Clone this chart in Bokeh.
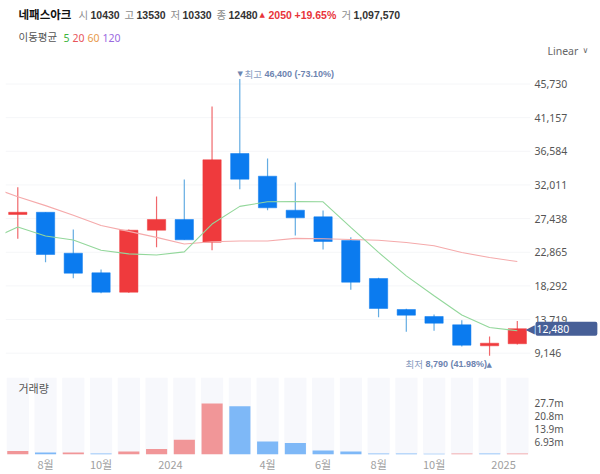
from bokeh.core.properties import value
from bokeh.embed import file_html
from bokeh.resources import INLINE
from bokeh.plotting import figure
from bokeh.layouts import column
from bokeh.models import Label, Range1d, FixedTicker, ColumnDataSource

KR = "Noto Sans CJK KR"
LAT = "Noto Sans"
NUM = "Liberation Sans"

# ---- data ----
idx = list(range(19))
opens = [28000, 28300, 22736, 20072, 17436, 25862, 27316, 24231, 36285, 33200, 28580, 27683, 24462, 19298, 15085, 14134, 13006, 10152, 10430]
closes = [28300, 22559, 20018, 17436, 25862, 27316, 24557, 35429, 32793, 28906, 27547, 24326, 18795, 15221, 14310, 13223, 10233, 10505, 12480]
highs = [31700, 28300, 25957, 20521, 25950, 30442, 32752, 42673, 46400, 35606, 32344, 28539, 24910, 19400, 15180, 14405, 13631, 11416, 13530]
lows = [24700, 21513, 19338, 17300, 17350, 23551, 24557, 23144, 31434, 28580, 25142, 23239, 17762, 14038, 12054, 12190, 10057, 8790, 10330]

ma_x = [-1, 0, 1, 2, 3, 4, 5, 6, 7, 8, 9, 10, 11, 12, 13, 14, 15, 16, 17, 18]
ma20 = [24540, 26300, 25080, 24540, 23130, 22640, 22500, 22910, 26700, 29100, 29720, 29770, 29720, 26250, 22840, 19660, 16950, 14330, 12640, 12200]
ma60 = [31800, 30400, 29200, 27900, 26500, 25700, 24890, 23990, 24300, 24390, 24390, 24750, 24690, 24600, 24500, 24190, 23740, 22830, 22150, 21600]

volumes = [1.95, 1.07, 1.07, 0.5, 1.6, 3.0, 8.0, 27.6, 26.1, 7.1, 6.2, 2.1, 1.6, 0.55, 0.6, 0.35, 0.5, 0.55, 0.5]
vol_up = [1, 0, 1, 0, 1, 1, 1, 1, 0, 0, 0, 0, 0, 0, 0, 0, 1, 0, 1]

price_ticks = [9146, 13719, 18292, 22865, 27438, 32011, 36584, 41157, 45730]
vol_ticks = [6.93, 13.9, 20.8, 27.7]
vol_tick_labels = ["6.93m", "13.9m", "20.8m", "27.7m"]
x_ticks = [1, 3, 5.5, 9, 11, 13, 15, 17.5]
x_tick_labels = ["8월", "10월", "2024", "4월", "6월", "8월", "10월", "2025"]

RED, BLUE = "#ef3a3d", "#0b7bef"
RED_W, BLUE_W = "#f0686c", "#64ace2"
X_LEFT, X_RIGHT = -0.443, 18.47


def lab(fig, text, x, y, color="#333333", size="11px", font=KR, style="normal"):
    fig.add_layout(Label(x=x, y=y, x_units="canvas", y_units="canvas", text=text, text_color=color,
                         text_font=font, text_font_size=size, text_font_style=style,
                         text_baseline="middle", text_align="left"))


# ---- header strip ----
h = figure(width=600, height=60, x_range=Range1d(0, 1), y_range=Range1d(0, 1),
           output_backend="svg", toolbar_location=None, min_border=0, frame_align=False,
           outline_line_color=None, border_fill_color="white", background_fill_color="white")
h.axis.visible = False
h.grid.visible = False
GR, DK, RD = "#8c8c8c", "#333333", "#e8343a"
lab(h, "네패스아크", 18, 13, "#111111", "11.5px", KR, "bold")
for t, x, c, s, f in [("시", 78, GR, "normal", KR), ("10430", 90, DK, "bold", NUM),
                      ("고", 124, GR, "normal", KR), ("13530", 136, DK, "bold", NUM),
                      ("저", 170, GR, "normal", KR), ("10330", 182, DK, "bold", NUM),
                      ("종", 216, GR, "normal", KR), ("12480", 228, DK, "bold", NUM),
                      ("2050", 268, RD, "bold", NUM), ("+19.65%", 294, RD, "bold", NUM),
                      ("거", 341, GR, "normal", KR), ("1,097,570", 353, DK, "bold", NUM)]:
    lab(h, t, x, 14, c, "10.5px", f, s)
lab(h, "▲", 259, 14, RD, "7px", "DejaVu Sans")
lab(h, "이동평균", 18, 36, "#555555", "10.5px")
for t, x, c in [("5", 63, "#3cb43c"), ("20", 72, "#e8555a"), ("60", 87, "#e89a4a"), ("120", 102, "#9a6ae0")]:
    lab(h, t, x, 37, c, "10.5px", LAT)
lab(h, "Linear", 547, 50, "#666666", "10.5px", LAT)
lab(h, "∨", 582, 50, "#666666", "8px", "DejaVu Sans")

# ---- price panel: frame runs to the right edge, so the price tag can sit over the tick labels ----
p = figure(width=600, height=312, x_range=Range1d(X_LEFT, 20.998), y_range=Range1d(6795, 48924),
           output_backend="svg", toolbar_location=None, frame_align=False,
           min_border_left=5, min_border_right=0, min_border_top=0, min_border_bottom=2,
           outline_line_color=None, background_fill_color="white", border_fill_color="white")
p.axis.visible = False
p.grid.visible = False
p.segment([X_LEFT] * len(price_ticks), price_ticks, [X_RIGHT] * len(price_ticks), price_ticks,
          line_color="#f5f6f8", line_width=1)
p.text([18.62] * len(price_ticks), price_ticks, text=[f"{t:,}" for t in price_ticks],
       text_font=value(LAT), text_font_size="10.5px", text_color="#555555", text_baseline="middle")

up = [c >= o for o, c in zip(opens, closes)]
src = ColumnDataSource(dict(x=idx, top=[max(o, c) for o, c in zip(opens, closes)],
                            bottom=[min(o, c) for o, c in zip(opens, closes)],
                            high=highs, low=lows,
                            body=[RED if u else BLUE for u in up],
                            wick=[RED_W if u else BLUE_W for u in up]))
p.segment("x", "high", "x", "low", source=src, line_color="wick", line_width=1.2)
p.vbar("x", 0.66, "bottom", "top", source=src, fill_color="body", line_color="body", line_width=0.5)
p.line(ma_x, ma60, line_color="#f5aaab", line_width=1.1)
p.line(ma_x, ma20, line_color="#93d79b", line_width=1.1)

AN = "#6d84b0"
lab(p, "▼", 237, 13, AN, "7px", "DejaVu Sans")
lab(p, "최고", 244, 13, "#8a9cc0", "9.5px")
lab(p, "46,400 (-73.10%)", 264, 13, AN, "9px", NUM, "bold")
lab(p, "최저", 405, 303, "#8a9cc0", "9.5px")
lab(p, "8,790 (41.98%)", 425, 303, AN, "9px", NUM, "bold")
lab(p, "▲", 486, 304, AN, "7px", "DejaVu Sans")

TAG = "#475f97"
p.add_layout(Label(x=525, y=closes[-1], x_units="canvas", y_units="data", text="◀", text_color=TAG,
                   text_font="DejaVu Sans", text_font_size="12px", text_baseline="middle"))
p.add_layout(Label(x=535, y=closes[-1], x_units="canvas", y_units="data", text=f"{closes[-1]:,}",
                   text_color="white", text_font=LAT, text_font_size="10.5px", text_baseline="middle",
                   background_fill_color=TAG, padding=(1, 28, 3, 3), border_radius=2))

# ---- volume panel ----
v = figure(width=600, height=102, x_range=Range1d(X_LEFT, X_RIGHT), y_range=Range1d(0, 41.7),
           output_backend="svg", toolbar_location=None, y_axis_location="right", frame_align=False,
           min_border_left=5, min_border_right=70, min_border_top=5, min_border_bottom=19,
           outline_line_color=None, background_fill_color="white", border_fill_color="white")
v.xgrid.visible = False
v.ygrid.visible = False
v.vbar(idx, 0.8, 0, 41.7, fill_color="#f7f8fc", line_color=None)
v.vbar(idx, 0.76, 0, volumes, fill_color=["#f19698" if u else "#7eb8f7" for u in vol_up], line_color=None)
ya = v.yaxis[0]
ya.ticker = FixedTicker(ticks=vol_ticks)
ya.major_label_overrides = dict(zip(vol_ticks, vol_tick_labels))
ya.axis_line_color = None
ya.major_tick_line_color = None
ya.minor_tick_line_color = None
ya.major_tick_out = 0
ya.major_tick_in = 0
ya.major_label_text_font = LAT
ya.major_label_text_font_size = "10px"
ya.major_label_text_color = "#555555"
ya.major_label_standoff = 4
xa = v.xaxis[0]
xa.ticker = FixedTicker(ticks=x_ticks)
xa.major_label_overrides = dict(zip(x_ticks, x_tick_labels))
xa.axis_line_color = None
xa.major_tick_line_color = None
xa.minor_tick_line_color = None
xa.major_tick_out = 0
xa.major_tick_in = 0
xa.major_label_text_font = KR
xa.major_label_text_font_size = "11px"
xa.major_label_text_color = "#a0a0a0"
xa.major_label_standoff = 1
v.add_layout(Label(x=18, y=15, x_units="canvas", y_units="canvas", text="거래량", text_font=KR,
                   text_font_size="11px", text_color="#555555", text_baseline="middle"))

page = column(h, p, v, spacing=0)
open("out.html", "w").write(file_html(page, INLINE))
